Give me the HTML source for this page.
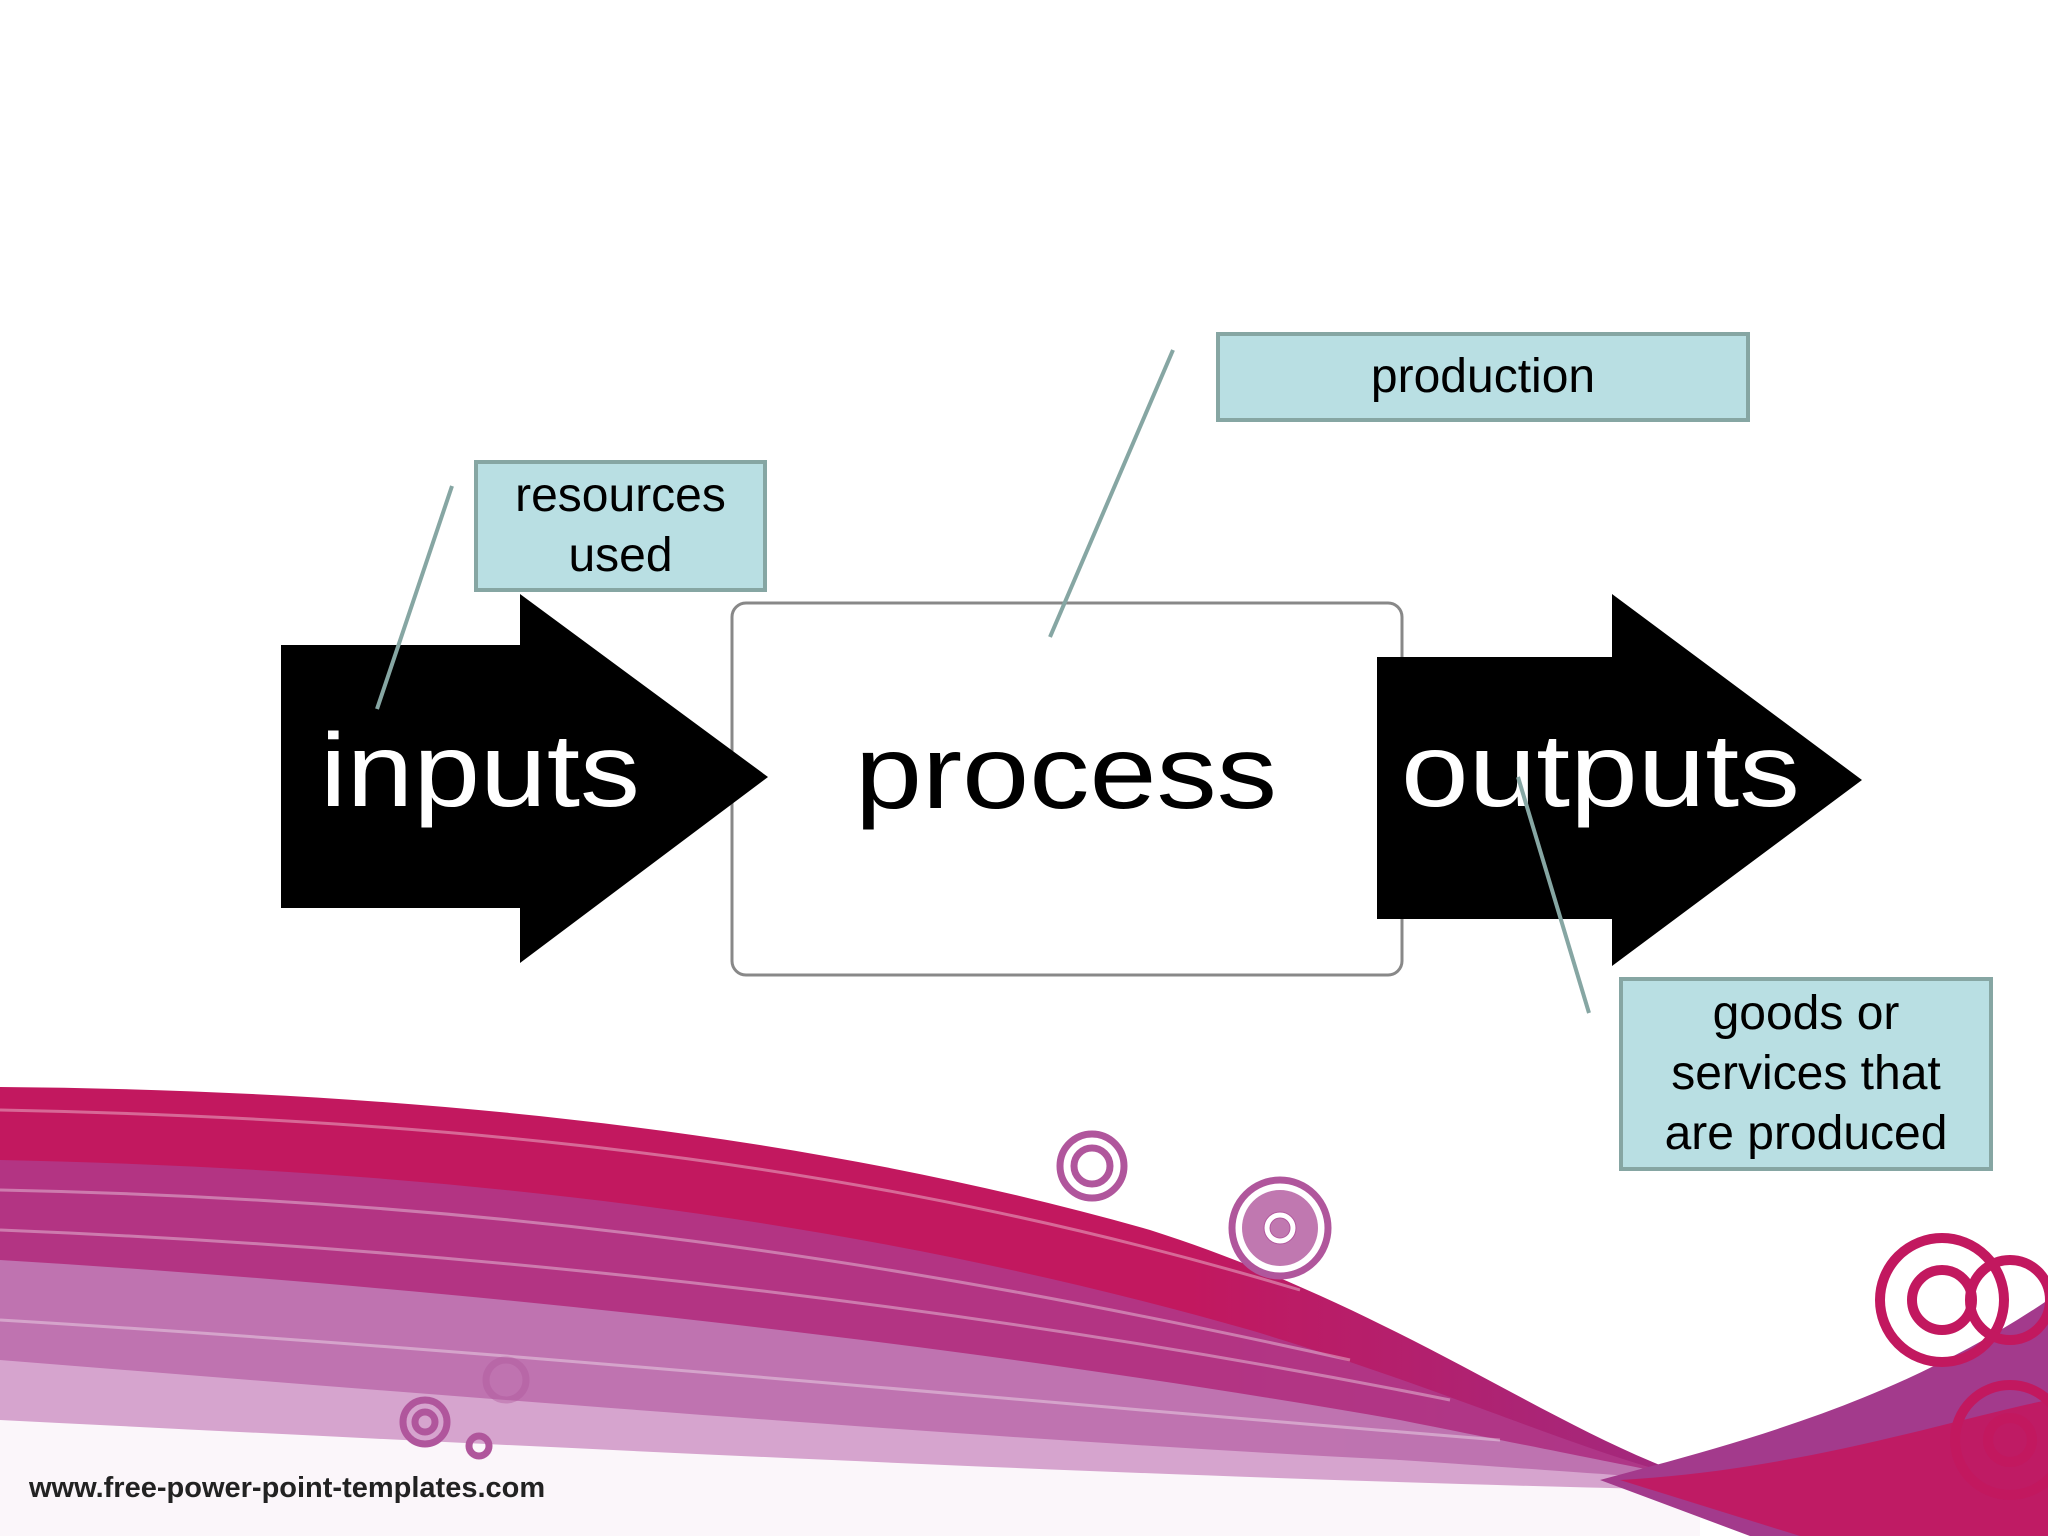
<!DOCTYPE html>
<html><head><meta charset="utf-8"><style>
html,body{margin:0;padding:0;background:#fff;}
body{width:2048px;height:1536px;position:relative;overflow:hidden;font-family:"Liberation Sans",sans-serif;}
.lbl{position:absolute;background:#b9dfe3;border:4px solid #86a6a3;box-sizing:border-box;color:#000;text-align:center;font-size:48px;line-height:60px;display:flex;align-items:center;justify-content:center;}
</style></head><body>
<svg width="2048" height="1536" style="position:absolute;left:0;top:0">
<defs>
<linearGradient id="g1" x1="0" y1="0" x2="1" y2="0">
<stop offset="0" stop-color="#c2185f"/><stop offset="0.7" stop-color="#c2185f"/><stop offset="1" stop-color="#a02a80"/></linearGradient>
</defs>
<path d="M0 1087 C400 1090 800 1130 1150 1230 C1400 1310 1550 1430 1700 1480 L1700 1536 L0 1536 Z" fill="url(#g1)"/>
<path d="M0 1160 C500 1170 900 1230 1250 1330 C1450 1390 1600 1460 1700 1480 L1700 1536 L0 1536 Z" fill="#b03a8a" opacity="0.85"/>
<path d="M0 1260 C500 1290 1000 1350 1400 1420 C1550 1450 1650 1470 1700 1480 L1700 1536 L0 1536 Z" fill="#c07ab5" opacity="0.9"/>
<path d="M0 1360 C500 1400 1000 1440 1400 1460 C1550 1470 1650 1478 1700 1480 L1700 1536 L0 1536 Z" fill="#dcb0d6" opacity="0.8"/>
<path d="M0 1420 C600 1450 1200 1480 1700 1490 L1700 1536 L0 1536 Z" fill="#fff" opacity="0.9"/>
<path d="M1600 1480 C1750 1440 1900 1400 2048 1300 L2048 1536 L1750 1536 Z" fill="#a33a8c"/>
<path d="M1620 1480 C1800 1470 1950 1420 2048 1400 L2048 1536 L1800 1536 Z" fill="#c2185f" opacity="0.9"/>
<g fill="none" stroke="#fff" stroke-width="3" opacity="0.35">
<path d="M0 1110 C500 1120 900 1170 1300 1290"/><path d="M0 1190 C500 1200 900 1260 1350 1360"/>
<path d="M0 1230 C500 1250 1000 1310 1450 1400"/><path d="M0 1320 C500 1350 1000 1400 1500 1440"/>
</g>
<g fill="none" stroke="#b0569c" stroke-width="7">
<circle cx="1092" cy="1166" r="32"/><circle cx="1092" cy="1166" r="18"/>
<circle cx="1280" cy="1228" r="48"/><circle cx="1280" cy="1228" r="13"/>
<circle cx="425" cy="1422" r="22"/><circle cx="425" cy="1422" r="10"/>
<circle cx="479" cy="1446" r="10"/><circle cx="506" cy="1380" r="20" opacity="0.4"/>
</g>
<circle cx="1280" cy="1228" r="38" fill="#b0569c" opacity="0.8"/>
<circle cx="1280" cy="1228" r="13" fill="none" stroke="#fff" stroke-width="5"/>
<g fill="none" stroke="#c2185f" stroke-width="10">
<circle cx="1942" cy="1300" r="62"/><circle cx="1942" cy="1300" r="30"/>
<circle cx="2010" cy="1300" r="40"/><circle cx="2010" cy="1440" r="55"/><circle cx="2010" cy="1440" r="22"/>
</g>
<rect x="732" y="603" width="670" height="372" rx="14" fill="#fff" stroke="#888" stroke-width="3"/>
<polygon points="281,645 520,645 520,594 768,777 520,963 520,908 281,908" fill="#000"/>
<polygon points="1377,657 1612,657 1612,594 1862,780 1612,966 1612,919 1377,919" fill="#000"/>
<text x="320" y="806" font-size="104" fill="#fff" textLength="320" lengthAdjust="spacingAndGlyphs">inputs</text>
<text x="855" y="808" font-size="104" fill="#000" textLength="422" lengthAdjust="spacingAndGlyphs">process</text>
<text x="1401" y="806" font-size="104" fill="#fff" textLength="399" lengthAdjust="spacingAndGlyphs">outputs</text>
<g stroke="#86a6a3" stroke-width="4">
<line x1="452" y1="486" x2="377" y2="709"/>
<line x1="1173" y1="350" x2="1050" y2="637"/>
<line x1="1518" y1="777" x2="1589" y2="1013"/>
</g>
</svg>
<div class="lbl" style="left:474px;top:460px;width:293px;height:132px;">resources<br>used</div>
<div class="lbl" style="left:1216px;top:332px;width:534px;height:90px;">production</div>
<div class="lbl" style="left:1619px;top:977px;width:374px;height:194px;">goods or<br>services that<br>are produced</div>
<div style="position:absolute;left:29px;top:1472px;font-size:29px;font-weight:bold;color:#222;">www.free-power-point-templates.com</div>
</body></html>
